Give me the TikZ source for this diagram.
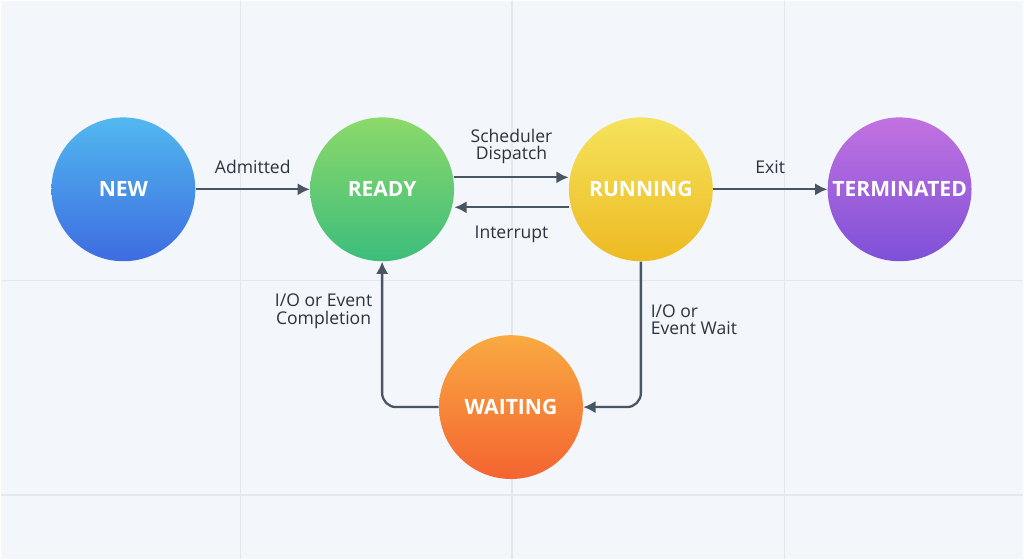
\documentclass[tikz,border=0pt]{standalone}
\usepackage{fontspec}
\setmainfont{Open Sans}
\usetikzlibrary{arrows.meta}
\definecolor{bg}{HTML}{F3F6FA}
\definecolor{gridc}{HTML}{E3E8EE}
\definecolor{edgec}{HTML}{4A5563}
\definecolor{txt}{HTML}{2B3340}
\definecolor{newT}{HTML}{52B8F0}\definecolor{newB}{HTML}{3D6CE0}
\definecolor{readyT}{HTML}{8CD96A}\definecolor{readyB}{HTML}{3CBD7C}
\definecolor{runT}{HTML}{F5E35C}\definecolor{runB}{HTML}{EDBA22}
\definecolor{termT}{HTML}{C272E0}\definecolor{termB}{HTML}{7E50D8}
\definecolor{waitT}{HTML}{F9AA42}\definecolor{waitB}{HTML}{F46430}
\tikzset{
  state/.style={circle,minimum size=2.88cm,inner sep=0pt,text=white,font=\bfseries\large},
  trans/.style={draw=edgec,line width=1.3pt,-{Latex[length=7pt,width=7pt]}},
  lbl/.style={text=txt,font=\normalsize,align=center,inner sep=1pt}
}
\newcommand{\state}[6]{\node[state,top color=#5,bottom color=#6] (#1) at (#2,#3) {#4};}
\begin{document}
\begin{tikzpicture}[x=0.02cm,y=-0.02cm]
    \fill[bg] (0,0) rectangle (1024,559);
    \draw[gridc,line width=0.6pt] (240,0) -- (240,559) (512,0) -- (512,559) (785,0) -- (785,559)
      (0,280) -- (1024,280) (0,495) -- (1024,495);
    \state{new}{123}{189}{NEW}{newT}{newB}
    \state{ready}{382}{189}{READY}{readyT}{readyB}
    \state{running}{641}{189}{RUNNING}{runT}{runB}
    \state{term}{900}{189}{TERMINATED}{termT}{termB}
    \state{waiting}{511}{407}{WAITING}{waitT}{waitB}
    \draw[trans] (new) -- (ready) node[lbl,midway,above=7pt] {Admitted};
    \draw[trans] ([yshift=0.24cm]ready.east) -- ([yshift=0.24cm]running.west)
      node[lbl,midway,above=6pt] {Scheduler\\[-2pt]Dispatch};
    \draw[trans] ([yshift=-0.36cm]running.west) -- ([yshift=-0.36cm]ready.east)
      node[lbl,midway,below=9pt] {Interrupt};
    \draw[trans] (running) -- (term) node[lbl,midway,above=7pt] {Exit};
    \draw[trans,rounded corners=8pt] (running.south) |- (waiting.east)
      node[lbl,pos=0.2,right=4pt,align=left] {I/O or\\[-2pt]Event Wait};
    \draw[trans,rounded corners=8pt] (waiting.west) -| (ready.south)
      node[lbl,pos=0.83,left=4pt] {I/O or Event\\[-2pt]Completion};
\end{tikzpicture}
\end{document}
